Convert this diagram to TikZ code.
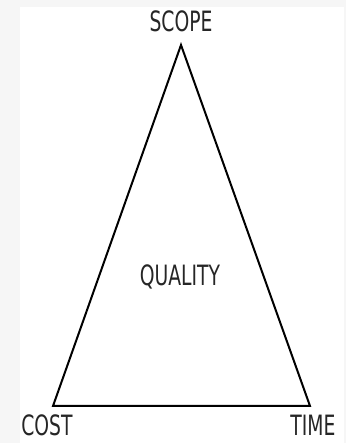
\documentclass[tikz,border=0pt]{standalone}
\usepackage{fontspec}
\newfontfamily\trifont[FakeStretch=0.67]{DejaVu Sans}
\usetikzlibrary{positioning}

\begin{document}
\begin{tikzpicture}[x=1pt,y=1pt,
  lbl/.style={font=\trifont\fontsize{28}{30}\selectfont, text=black!85,
    inner sep=0pt, anchor=base},
  side/.style={draw=black, line width=2pt, line join=miter}]
  % page and panel
  \fill[gray!7] (0,0) rectangle (346,443);
  \fill[white] (20,0) rectangle (344,436);
  \useasboundingbox (0,0) rectangle (346,443);
  % corners of the triangle
  \coordinate (apex) at (181,398);
  \coordinate (left) at (53,37);
  \coordinate (right) at (310,37);
  \draw[side] (apex) -- (right) -- (left) -- cycle;
  \node[lbl] (scope) at (181,411) {SCOPE};
  \node[lbl] (cost) at (47,8) {COST};
  \node[lbl] (time) at (313,8) {TIME};
  \node[lbl] (quality) at (180,157) {QUALITY};
\end{tikzpicture}
\end{document}
